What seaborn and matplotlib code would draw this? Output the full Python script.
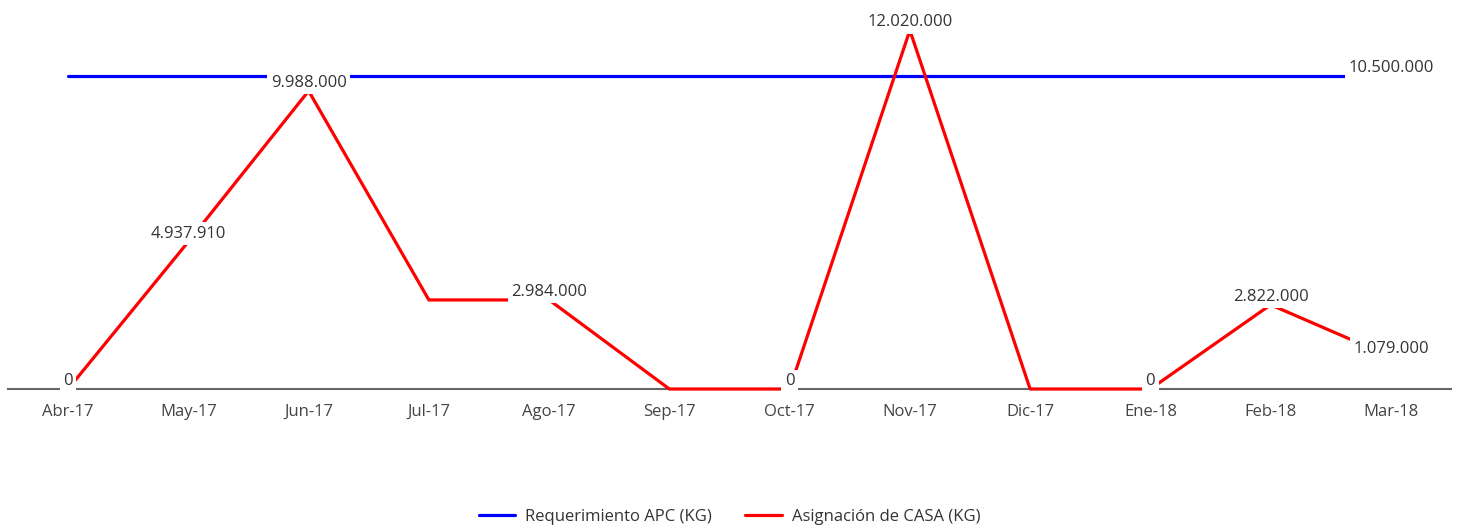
import pandas as pd
import seaborn as sns
import matplotlib.pyplot as plt

# datos
meses = ['Abr-17', 'May-17', 'Jun-17', 'Jul-17', 'Ago-17', 'Sep-17',
         'Oct-17', 'Nov-17', 'Dic-17', 'Ene-18', 'Feb-18', 'Mar-18']
requerimiento = [10500000] * 12
asignacion = [0, 4937910, 9988000, 2984000, 2984000, 0,
              0, 12020000, 0, 0, 2822000, 1079000]
serie_req = 'Requerimiento APC (KG)'
serie_asig = 'Asignación de CASA (KG)'
# etiquetas visibles en la imagen
etiquetas_asig = ['Abr-17', 'May-17', 'Jun-17', 'Ago-17', 'Oct-17',
                  'Nov-17', 'Ene-18', 'Feb-18', 'Mar-18']
etiquetas_req = ['Mar-18']

df = pd.DataFrame({
    'mes': meses * 2,
    'valor': requerimiento + asignacion,
    'serie': [serie_req] * 12 + [serie_asig] * 12,
})

sns.set_style('white')
plt.rcParams['font.family'] = ['Open Sans', 'DejaVu Sans']

fig = plt.figure(figsize=(14.59, 5.29), dpi=100)
ax = fig.add_axes([8 / 1459, (529 - 389) / 529, 1443 / 1459, (389 - 4) / 529])

sns.lineplot(data=df, x='mes', y='valor', hue='serie', sort=False,
             palette={serie_req: '#0000ff', serie_asig: '#ff0000'},
             linewidth=2.3, ax=ax, legend=True, clip_on=False)

ax.set_xlim(-0.5, 11.5)
ax.set_ylim(0, 12.9e6)
ax.set_xlabel('')
ax.set_ylabel('')
ax.set_yticks([])
for s in ['top', 'right', 'left']:
    ax.spines[s].set_visible(False)
ax.spines['bottom'].set_color('#666666')
ax.spines['bottom'].set_linewidth(1.5)
ax.spines['bottom'].set_zorder(1)
ax.tick_params(axis='x', length=0, pad=11, labelsize=12, labelcolor='#444444')


def fmt(v):
    return f'{v:,.0f}'.replace(',', '.')


def etiqueta(mes, v):
    ax.text(mes, v, fmt(v), ha='center', va='bottom', fontsize=12,
            color='#333333', zorder=5,
            bbox=dict(boxstyle='square,pad=0.2', fc='white', ec='none'))


for mes, v in zip(meses, asignacion):
    if mes in etiquetas_asig:
        etiqueta(mes, v)
for mes, v in zip(meses, requerimiento):
    if mes in etiquetas_req:
        etiqueta(mes, v)

ax.legend(loc='center', bbox_to_anchor=(0.5, 12 / 529), bbox_transform=fig.transFigure,
          ncol=2, frameon=False, fontsize=12, handlelength=2.2, columnspacing=2.0,
          handletextpad=0.6, labelcolor='#333333')

fig.savefig('out.png', dpi=100)
